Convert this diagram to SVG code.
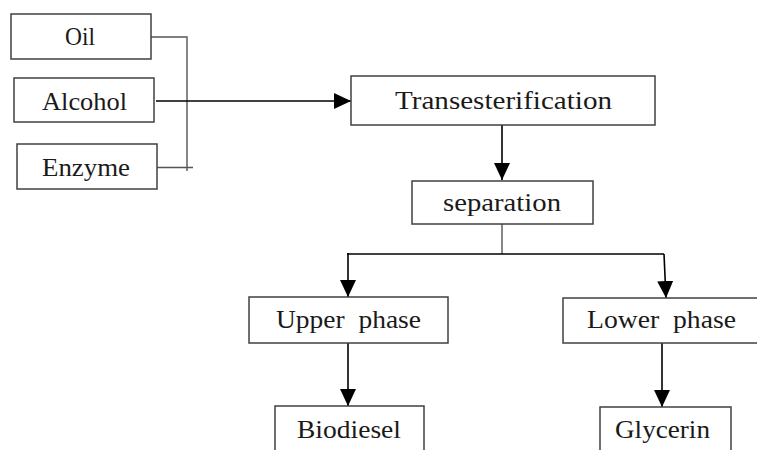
<svg xmlns="http://www.w3.org/2000/svg" width="757" height="450" viewBox="0 0 757 450">
<style>
.box{fill:#fff;stroke:#404040;stroke-width:1.5}
.t{font-family:"Liberation Serif","DejaVu Serif",serif;font-size:26px;fill:#1a1a1a}
.c{fill:none;stroke:#000;stroke-width:1.6}
.g{fill:none;stroke:#555;stroke-width:1.4}
</style>
<defs>
<marker id="ah" viewBox="0 0 17 16" refX="17" refY="8" markerWidth="17" markerHeight="16" markerUnits="userSpaceOnUse" orient="auto">
<path d="M0,0 L17,8 L0,16 Z" fill="#000"/>
</marker>
</defs>
<rect width="757" height="450" fill="#fff"/>
<g id="connectors">
<polyline class="g" points="151,37 187,37 187,171"/>
<line class="g" x1="157" y1="167.5" x2="193" y2="167.5"/>
<line class="c" x1="156" y1="101" x2="351" y2="101" marker-end="url(#ah)"/>
<line class="c" x1="502" y1="125" x2="502" y2="180" marker-end="url(#ah)"/>
<line class="g" x1="502" y1="224" x2="502" y2="254"/>
<line class="c" x1="347" y1="254" x2="664" y2="254"/>
<line class="c" x1="348" y1="253" x2="348" y2="297" marker-end="url(#ah)"/>
<line class="c" x1="664" y1="254" x2="666" y2="298" marker-end="url(#ah)"/>
<line class="c" x1="348" y1="343" x2="348" y2="406" marker-end="url(#ah)"/>
<line class="c" x1="662" y1="343" x2="662" y2="407" marker-end="url(#ah)"/>
</g>
<g id="oil"><rect class="box" x="11" y="14" width="140" height="45"/><text class="t" x="65" y="45" textLength="30" lengthAdjust="spacingAndGlyphs">Oil</text></g>
<g id="alcohol"><rect class="box" x="14" y="78" width="140" height="44"/><text class="t" x="42" y="110" textLength="85" lengthAdjust="spacingAndGlyphs">Alcohol</text></g>
<g id="enzyme"><rect class="box" x="17" y="144" width="140" height="45"/><text class="t" x="42" y="176" textLength="88" lengthAdjust="spacingAndGlyphs">Enzyme</text></g>
<g id="transesterification"><rect class="box" x="351" y="76" width="304" height="49"/><text class="t" x="395" y="109" textLength="217" lengthAdjust="spacingAndGlyphs">Transesterification</text></g>
<g id="separation"><rect class="box" x="412" y="181" width="181" height="43"/><text class="t" x="443" y="211" textLength="118" lengthAdjust="spacingAndGlyphs">separation</text></g>
<g id="upper-phase"><rect class="box" x="249" y="297" width="199" height="46"/><text class="t" x="276" y="328" textLength="145" lengthAdjust="spacingAndGlyphs" xml:space="preserve">Upper  phase</text></g>
<g id="lower-phase"><rect class="box" x="563" y="298" width="200" height="45"/><text class="t" x="587" y="328" textLength="149" lengthAdjust="spacingAndGlyphs" xml:space="preserve">Lower  phase</text></g>
<g id="biodiesel"><rect class="box" x="275" y="406" width="149" height="60"/><text class="t" x="297" y="438" textLength="104" lengthAdjust="spacingAndGlyphs">Biodiesel</text></g>
<g id="glycerin"><rect class="box" x="600" y="407" width="131" height="60"/><text class="t" x="615" y="438" textLength="95" lengthAdjust="spacingAndGlyphs">Glycerin</text></g>
</svg>
